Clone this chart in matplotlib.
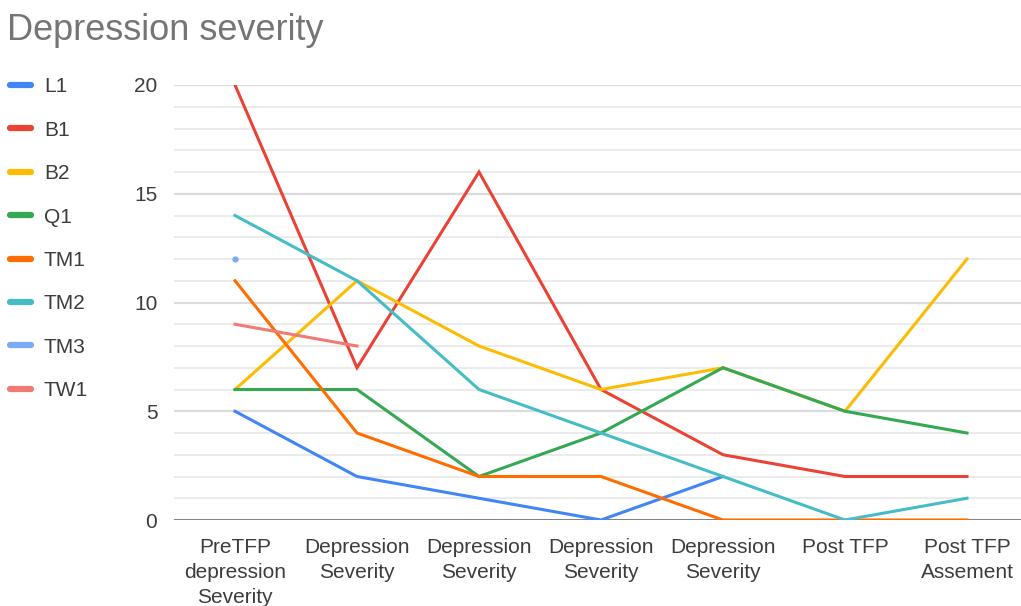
import numpy as np
import matplotlib
matplotlib.use("Agg")
import matplotlib.pyplot as plt
from matplotlib.lines import Line2D
from matplotlib.ticker import MultipleLocator

plt.rcParams['font.family'] = ['Liberation Sans', 'DejaVu Sans']

title = "Depression severity"
categories = ["PreTFP\ndepression\nSeverity", "Depression\nSeverity", "Depression\nSeverity",
              "Depression\nSeverity", "Depression\nSeverity", "Post TFP", "Post TFP\nAssement"]

nan = np.nan
L1 = [5, 2, 1, 0, 2, nan, nan]
B1 = [20, 7, 16, 6, 3, 2, 2]
B2 = [6, 11, 8, 6, 7, 5, 12]
Q1 = [6, 6, 2, 4, 7, 5, 4]
TM1 = [11, 4, 2, 2, 0, 0, 0]
TM2 = [14, 11, 6, 4, 2, 0, 1]
TM3 = [12, nan, nan, nan, nan, nan, nan]
TW1 = [9, 8, nan, nan, nan, nan, nan]

series_names = ["L1", "B1", "B2", "Q1", "TM1", "TM2", "TM3", "TW1"]
series_values = [L1, B1, B2, Q1, TM1, TM2, TM3, TW1]
colors = ["#4285F4", "#EA4335", "#FBBC04", "#34A853", "#FF6D01", "#46BDC6", "#7BAAF7", "#F07B72"]

fig = plt.figure(figsize=(10.21, 6.06), dpi=100)
ax = fig.add_axes([174 / 1021, 1 - 520 / 606, (1028 - 174) / 1021, (520 - 85) / 606])

x = np.arange(len(categories))
handles = []
for name, vals, c in zip(series_names, series_values, colors):
    v = np.array(vals, dtype=float)
    ax.plot(x, v, color=c, lw=2.2, solid_joinstyle='miter', zorder=3)
    if np.sum(~np.isnan(v)) == 1:
        ax.plot(x, v, 'o', color=c, ms=3.5, zorder=3)
    handles.append(Line2D([], [], color=c, lw=4.5, solid_capstyle='round'))

ax.set_xlim(-0.5, 6.5)
ax.set_ylim(0, 20)
ax.yaxis.set_major_locator(MultipleLocator(5))
ax.yaxis.set_minor_locator(MultipleLocator(1))
ax.grid(which='minor', axis='y', color='#ebebeb', lw=1.4, zorder=0)
ax.grid(which='major', axis='y', color='#dcdcdc', lw=1.6, zorder=0)
ax.axhline(0, color='#666666', lw=1.8, zorder=2)
ax.set_xticks(x)
ax.set_xticklabels(categories, fontsize=15, color='#3c3c3c', linespacing=1.4, va='top')
ax.tick_params(axis='both', which='both', length=0)
ax.tick_params(axis='x', pad=13)
ax.tick_params(axis='y', labelsize=15, labelcolor='#3c3c3c', pad=12)
for s in ax.spines.values():
    s.set_visible(False)
ax.set_axisbelow(True)

fig.text(7 / 1021, 1 - 31 / 606, title, fontsize=26, color='#757575', va='center', ha='left')

fig.legend(handles, series_names, loc='upper left', bbox_to_anchor=(0.0, 1 - 67 / 606),
           frameon=False, fontsize=15, labelcolor='#3c3c3c', handlelength=1.0,
           handletextpad=0.6, labelspacing=1.17, borderaxespad=0.2, borderpad=0.3)

fig.savefig("out.png", dpi=100, facecolor='white')
